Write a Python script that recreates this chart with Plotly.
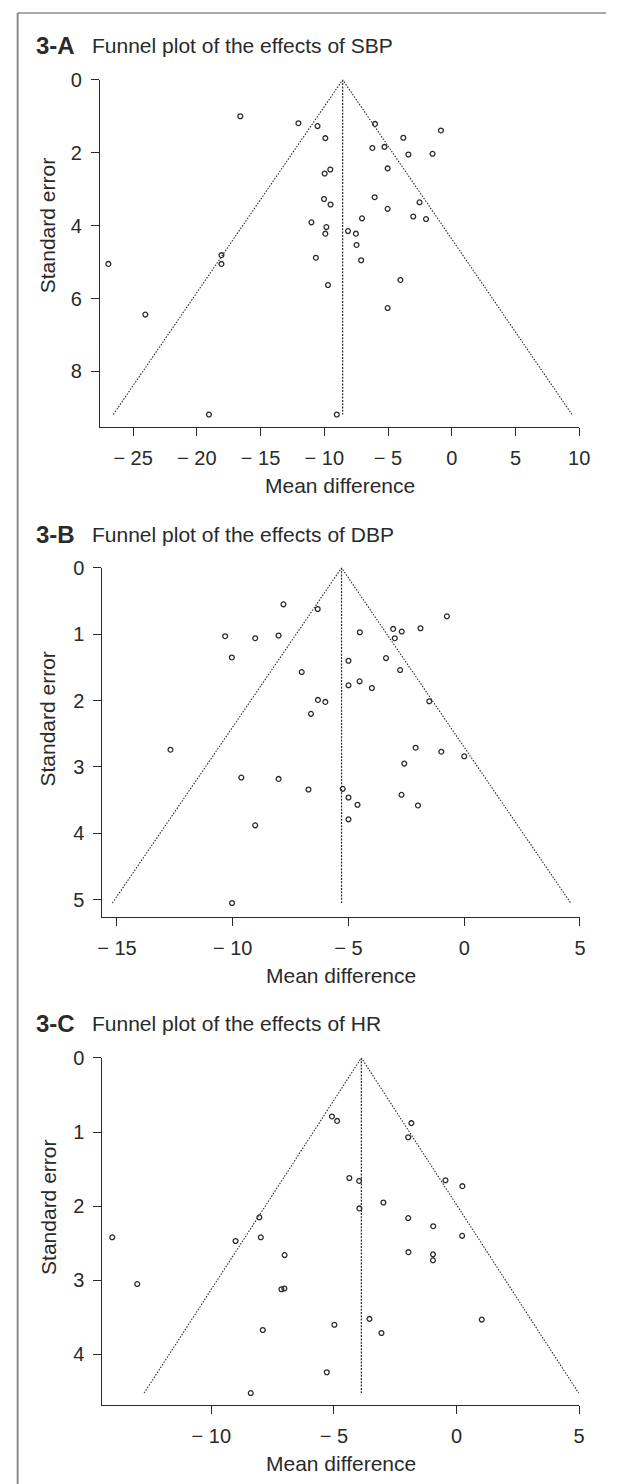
import plotly.graph_objects as go

W, H = 617, 1484

# ---------------- data ----------------
# Panel A (SBP)
A_md = [-26.94, -24.04, -16.59, -18.07, -18.07, -12.03, -10.53, -9.92, -9.97, -9.53,
        -10.02, -9.51, -11.01, -9.84, -9.92, -10.66, -9.71, -6.02, -0.85, -3.80,
        -6.23, -5.28, -3.40, -1.51, -5.03, -6.05, -5.03, -2.53, -3.02, -2.02,
        -7.04, -8.14, -7.52, -7.47, -7.11, -4.03, -5.03, -19.05, -9.02]
A_se = [5.05, 6.44, 1.00, 4.81, 5.05, 1.19, 1.27, 1.60, 2.57, 2.46,
        3.27, 3.42, 3.91, 4.04, 4.22, 4.88, 5.63, 1.21, 1.39, 1.59,
        1.87, 1.84, 2.05, 2.03, 2.43, 3.22, 3.54, 3.36, 3.75, 3.82,
        3.80, 4.15, 4.22, 4.53, 4.95, 5.49, 6.26, 9.18, 9.18]
A_center, A_semax = -8.56, 9.18

# Panel B (DBP)
B_md = [-7.81, -10.33, -9.03, -8.02, -10.04, -7.02, -6.62, -12.69, -9.63, -8.02,
        -6.33, -4.51, -0.75, -3.07, -2.70, -1.89, -3.00, -5.00, -3.38, -2.77,
        -5.00, -4.52, -3.99, -6.32, -6.00, -1.51, -2.10, -0.99, 0.00, -2.59,
        -6.73, -5.25, -5.00, -4.61, -5.00, -2.71, -2.00, -9.03, -10.03]
B_se = [0.55, 1.03, 1.06, 1.02, 1.35, 1.57, 2.20, 2.74, 3.16, 3.18,
        0.62, 0.97, 0.73, 0.92, 0.96, 0.91, 1.06, 1.40, 1.36, 1.54,
        1.77, 1.71, 1.81, 1.99, 2.02, 2.01, 2.71, 2.77, 2.84, 2.95,
        3.34, 3.33, 3.46, 3.57, 3.79, 3.42, 3.58, 3.88, 5.05]
B_center, B_semax = -5.30, 5.05

# Panel C (HR)
C_md = [-8.04, -5.08, -4.87, -1.84, -1.97, -4.37, -3.97, -0.45, 0.24, -3.96,
        -2.98, -1.97, -0.95, -14.04, -13.02, -9.01, -7.98, -7.01, -7.14, -7.02,
        -7.90, -4.98, -5.29, -8.39, 0.23, -1.96, -0.96, -0.96, -3.55, -3.06, 1.03]
C_se = [2.15, 0.79, 0.85, 0.88, 1.07, 1.62, 1.66, 1.65, 1.73, 2.03,
        1.95, 2.16, 2.27, 2.42, 3.05, 2.47, 2.42, 2.66, 3.12, 3.11,
        3.67, 3.60, 4.24, 4.52, 2.40, 2.62, 2.65, 2.73, 3.52, 3.71, 3.53]
C_center, C_semax = -3.88, 4.52

panel_ids = ["3-A", "3-B", "3-C"]
panel_titles = ["Funnel plot of the effects of SBP",
                "Funnel plot of the effects of DBP",
                "Funnel plot of the effects of HR"]
x_label = "Mean difference"
y_label = "Standard error"

A_xticks = [-25, -20, -15, -10, -5, 0, 5, 10]
B_xticks = [-15, -10, -5, 0, 5]
C_xticks = [-10, -5, 0, 5]
A_yticks = [0, 2, 4, 6, 8]
B_yticks = [0, 1, 2, 3, 4, 5]
C_yticks = [0, 1, 2, 3, 4]

# ---------------- layout (pixel boxes) ----------------
INK = "#2a2a2a"
FONT = "Liberation Sans, Arial, Helvetica, sans-serif"

panels = [
    dict(md=A_md, se=A_se, c=A_center, m=A_semax, xt=A_xticks, yt=A_yticks,
         box=(97.5, 589.5, 69.3, 419.0), xr=[-27.6, 10], yr=[9.52, 0], ylab_y=216, title_y=35),
    dict(md=B_md, se=B_se, c=B_center, m=B_semax, xt=B_xticks, yt=B_yticks,
         box=(100.0, 590.3, 561.0, 912.7), xr=[-15.63, 5], yr=[5.26, 0], ylab_y=713, title_y=527),
    dict(md=C_md, se=C_se, c=C_center, m=C_semax, xt=C_xticks, yt=C_yticks,
         box=(100.0, 589.4, 1054.7, 1404.3), xr=[-14.44, 5], yr=[4.68, 0], ylab_y=1205, title_y=1020),
]

def fmt(v):
    return ("\u2212 " + str(abs(v))) if v < 0 else str(v)

fig = go.Figure()
annotations = []
layout_axes = {}

for i, p in enumerate(panels):
    n = "" if i == 0 else str(i + 1)
    xa, ya = "x" + n, "y" + n
    x0, x1, y0, y1 = p["box"]
    z = 1.96
    # funnel lines
    fig.add_trace(go.Scatter(
        x=[p["c"] - z * p["m"], p["c"], p["c"] + z * p["m"]],
        y=[p["m"], 0, p["m"]], mode="lines",
        line=dict(color=INK, width=1.1, dash="1.5px,1.5px"),
        xaxis=xa, yaxis=ya, hoverinfo="skip", showlegend=False, cliponaxis=False))
    fig.add_trace(go.Scatter(
        x=[p["c"], p["c"]], y=[0, p["m"]], mode="lines",
        line=dict(color=INK, width=1.2, dash="2px,1.3px"),
        xaxis=xa, yaxis=ya, hoverinfo="skip", showlegend=False, cliponaxis=False))
    fig.add_trace(go.Scatter(
        x=p["md"], y=p["se"], mode="markers",
        marker=dict(symbol="circle-open", size=4.8, color=INK, line=dict(width=1.3, color=INK)),
        xaxis=xa, yaxis=ya, showlegend=False, cliponaxis=False))

    common = dict(showgrid=False, zeroline=False, showline=True, linecolor=INK, linewidth=1.3,
                  ticks="outside", ticklen=8, tickwidth=1.3, tickcolor=INK,
                  tickfont=dict(family=FONT, size=20, color=INK))
    layout_axes["xaxis" + n] = dict(common, domain=[x0 / W, x1 / W], range=p["xr"],
                                    anchor=ya, tickvals=p["xt"],
                                    ticktext=[fmt(v) for v in p["xt"]], ticklabelstandoff=5)
    layout_axes["yaxis" + n] = dict(common, domain=[1 - y1 / H, 1 - y0 / H], range=p["yr"],
                                    anchor=xa, tickvals=p["yt"],
                                    ticktext=[str(v) for v in p["yt"]], ticklabelstandoff=5)

    # titles
    annotations.append(dict(x=29.5 / W, y=1 - p["title_y"] / H, xref="paper", yref="paper",
                            text="<b>" + panel_ids[i] + "</b>", showarrow=False,
                            xanchor="left", yanchor="middle",
                            font=dict(family=FONT, size=24, color=INK)))
    annotations.append(dict(x=87.5 / W, y=1 - p["title_y"] / H, xref="paper", yref="paper",
                            text=panel_titles[i], showarrow=False,
                            xanchor="left", yanchor="middle",
                            font=dict(family=FONT, size=21, color=INK)))
    # axis titles
    annotations.append(dict(x=((x0 + x1) / 2) / W, y=1 - (y1 + 59) / H, xref="paper", yref="paper",
                            text=x_label, showarrow=False, xanchor="center", yanchor="middle",
                            font=dict(family=FONT, size=21, color=INK)))
    annotations.append(dict(x=44 / W, y=1 - p["ylab_y"] / H, xref="paper", yref="paper",
                            text=y_label, showarrow=False, textangle=-90,
                            xanchor="center", yanchor="middle",
                            font=dict(family=FONT, size=21, color=INK)))

shapes = [
    dict(type="line", xref="paper", yref="paper", x0=13 / W, x1=13 / W, y0=0, y1=1 - 2 / H,
         line=dict(color="#8a8a8a", width=2)),
    dict(type="line", xref="paper", yref="paper", x0=13 / W, x1=1, y0=1 - 2 / H, y1=1 - 2 / H,
         line=dict(color="#555555", width=1.2)),
]

fig.update_layout(width=W, height=H, margin=dict(l=0, r=0, t=0, b=0),
                  paper_bgcolor="white", plot_bgcolor="white",
                  annotations=annotations, shapes=shapes, **layout_axes)

fig.write_html("out.html", config={"displayModeBar": False},
               post_script="document.body.style.margin='0px';")
